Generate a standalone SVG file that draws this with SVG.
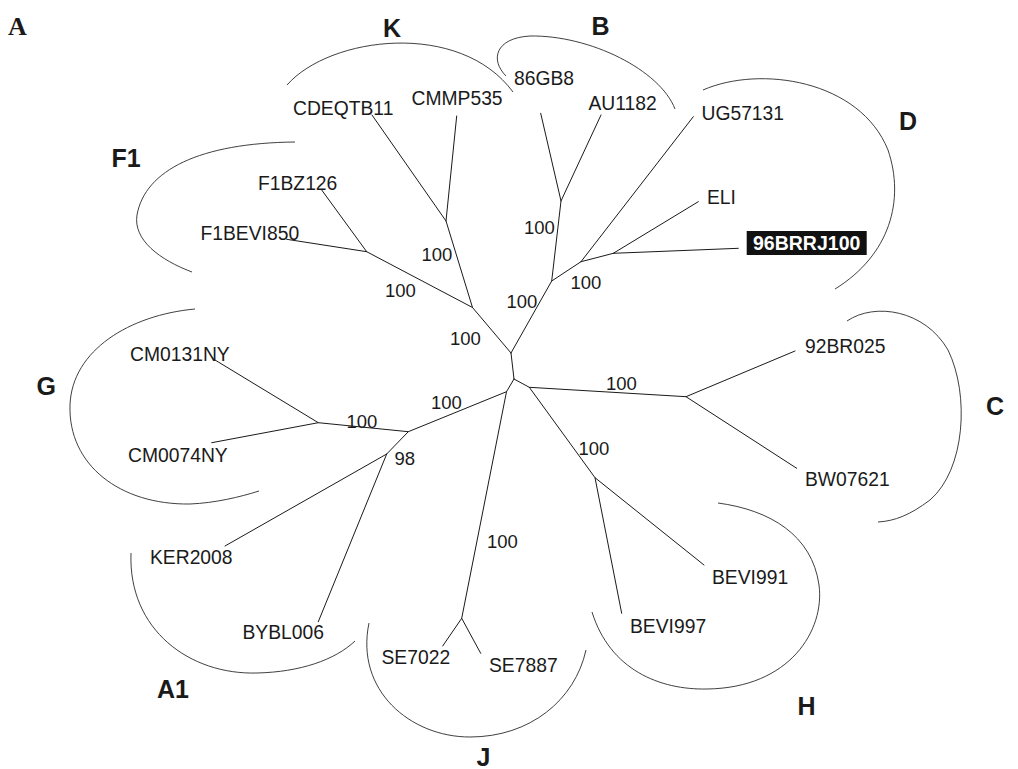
<svg xmlns="http://www.w3.org/2000/svg" width="1018" height="769" viewBox="0 0 1018 769">
<style>
.br{stroke:#1a1a1a;stroke-width:1;fill:none;stroke-linecap:round}
.arc{stroke:#2a2a2a;stroke-width:0.9;fill:none}
.lf{font-family:"Liberation Sans",Arial,sans-serif;font-size:19.3px;fill:#1a1a1a}
.bs{font-family:"Liberation Sans",Arial,sans-serif;font-size:18.5px;fill:#1a1a1a}
.cl{font-family:"Liberation Sans",Arial,sans-serif;font-size:25px;font-weight:bold;fill:#1a1a1a}
.pl{font-family:"Liberation Serif","Times New Roman",serif;font-size:26px;font-weight:bold;fill:#1a1a1a}
.hl{font-family:"Liberation Sans",Arial,sans-serif;font-size:19.5px;font-weight:bold;fill:#fff}
</style>
<rect width="1018" height="769" fill="#fff"/>
<text class="pl" x="8" y="35">A</text>

<g id="connectors">
<path class="br" d="M511,353 L514,379"/>
<path class="br" d="M511,353 L472.5,307.5 L446,221 L372,115 M446,221 L456.7,116"/>
<path class="br" d="M472.5,307.5 L366.7,251.7 L321.7,190 M366.7,251.7 L286.7,239.3"/>
<path class="br" d="M511,353 L551.7,281 L561,201 L540.7,113.3 M561,201 L601,115"/>
<path class="br" d="M551.7,281 L581,261.7 L693.3,116.7 M581,261.7 L613.3,253.3 L698.3,201.7 M613.3,253.3 L738.3,248.3"/>
<path class="br" d="M514,379 L529.3,387.3 L686,396.7 L795,351 M686,396.7 L796.7,468.3"/>
<path class="br" d="M529.3,387.3 L595,477.7 L704,565 M595,477.7 L621.7,613.3"/>
<path class="br" d="M514,379 L506.5,391.7 L408.3,431.7 L318.3,422.7 L215,360 M318.3,422.7 L211.7,442.7"/>
<path class="br" d="M408.3,431.7 L386.7,454 L225,546 M386.7,454 L318.3,621.7"/>
<path class="br" d="M506.5,391.7 L461.7,618.3 L442.7,646 M461.7,618.3 L480.7,653.3"/>
</g>

<g id="clade-K">
<path class="arc" d="M287,85 C330,36 460,20 513,92"/>
<text class="cl" x="383" y="37">K</text>
<text class="lf" x="293" y="115">CDEQTB11</text>
<text class="lf" x="411.5" y="104.5">CMMP535</text>
</g>
<g id="clade-B">
<path class="arc" d="M506,76 C490,60 495,38 530,36 C590,35 660,70 675,109"/>
<text class="cl" x="591.5" y="35">B</text>
<text class="lf" x="514" y="84.5">86GB8</text>
<text class="lf" x="588.5" y="110">AU1182</text>
</g>
<g id="clade-D">
<path class="arc" d="M703,90 C760,65 860,80 888,150 C905,200 890,255 835,289"/>
<text class="cl" x="899" y="129.5">D</text>
<text class="lf" x="701.5" y="119.5">UG57131</text>
<text class="lf" x="707" y="204">ELI</text>
<rect x="746.7" y="231" width="120" height="24" fill="#111"/>
<text class="hl" x="753" y="250">96BRRJ100</text>
</g>
<g id="clade-F1">
<path class="arc" d="M295,142 C200,143 145,170 137,215 C133,240 160,260 192,272"/>
<text class="cl" x="111.5" y="166.5">F1</text>
<text class="lf" x="258" y="190">F1BZ126</text>
<text class="lf" x="200.5" y="239.5">F1BEVI850</text>
</g>
<g id="clade-G">
<path class="arc" d="M195,309 C130,315 72,350 70,405 C68,465 120,505 190,504 C215,503 240,497 259,491"/>
<text class="cl" x="36.5" y="395">G</text>
<text class="lf" x="130" y="361">CM0131NY</text>
<text class="lf" x="128" y="462">CM0074NY</text>
</g>
<g id="clade-A1">
<path class="arc" d="M131,553 C128,630 190,675 257,673 C300,672 335,660 355,641"/>
<text class="cl" x="157" y="698">A1</text>
<text class="lf" x="150" y="564">KER2008</text>
<text class="lf" x="242.5" y="638.5">BYBL006</text>
</g>
<g id="clade-J">
<path class="arc" d="M369,623 C355,690 410,737 470,737 C530,737 575,700 586,650"/>
<text class="cl" x="476.5" y="766">J</text>
<text class="lf" x="381.5" y="663.5">SE7022</text>
<text class="lf" x="489" y="672">SE7887</text>
</g>
<g id="clade-H">
<path class="arc" d="M592,612 C610,670 660,690 707,689 C790,688 825,630 819,585 C812,535 770,510 718,503"/>
<text class="cl" x="797.5" y="715">H</text>
<text class="lf" x="712" y="583.5">BEVI991</text>
<text class="lf" x="630" y="632.5">BEVI997</text>
</g>
<g id="clade-C">
<path class="arc" d="M847,321 C875,302 925,310 948,350 C970,395 965,470 930,500 C910,515 895,521 878,522"/>
<text class="cl" x="986" y="415">C</text>
<text class="lf" x="805" y="352.5">92BR025</text>
<text class="lf" x="805" y="486">BW07621</text>
</g>
<g id="bootstrap">
<text class="bs" x="421.5" y="261">100</text>
<text class="bs" x="385" y="296.5">100</text>
<text class="bs" x="450" y="345">100</text>
<text class="bs" x="506.5" y="307.5">100</text>
<text class="bs" x="524" y="233.5">100</text>
<text class="bs" x="570.5" y="288.5">100</text>
<text class="bs" x="606" y="389.5">100</text>
<text class="bs" x="578.5" y="455">100</text>
<text class="bs" x="431" y="408.5">100</text>
<text class="bs" x="346.5" y="428">100</text>
<text class="bs" x="394.5" y="464.5">98</text>
<text class="bs" x="487" y="548">100</text>
</g>
</svg>
